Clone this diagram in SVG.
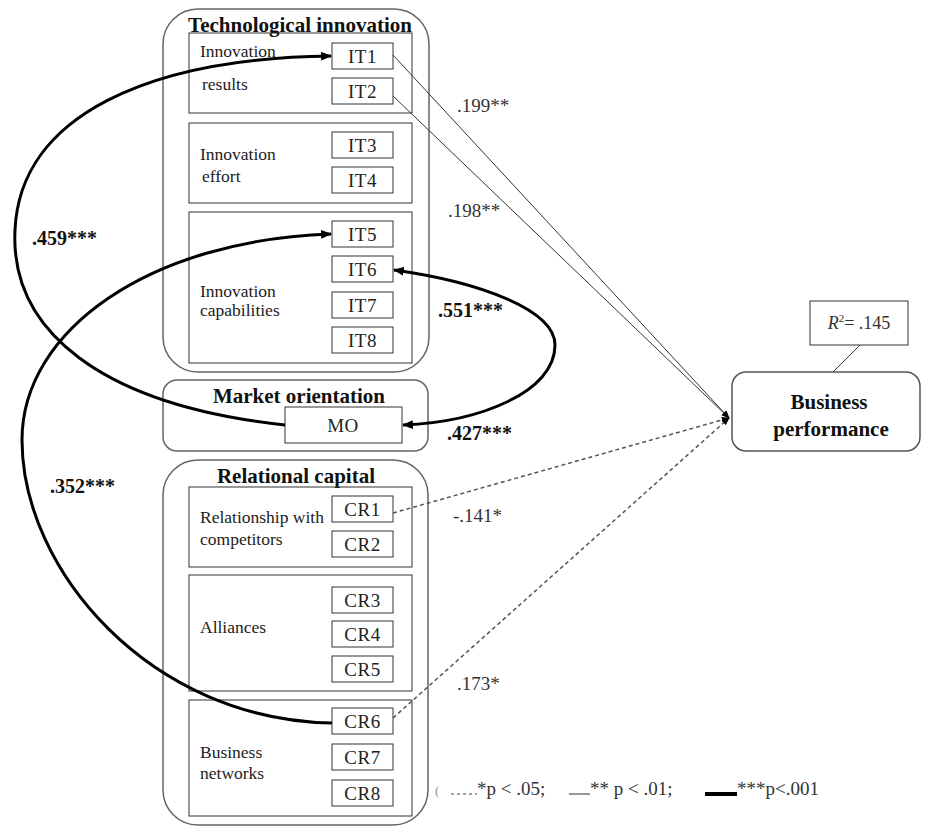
<svg xmlns="http://www.w3.org/2000/svg" width="933" height="828" viewBox="0 0 933 828">
<style>
.outer{fill:none;stroke:#666;stroke-width:1.5}
.inner{fill:none;stroke:#333;stroke-width:1}
.code{fill:#fff;stroke:#333;stroke-width:1}
.ct{font-family:"Liberation Serif",serif;font-size:19px;fill:#222;text-anchor:middle;letter-spacing:0.5px}
.lbl{font-family:"Liberation Serif",serif;font-size:17.5px;fill:#222}
.hdr{font-family:"Liberation Serif",serif;font-size:21px;font-weight:bold;fill:#111;text-anchor:middle}
.num{font-family:"Liberation Serif",serif;font-size:19px;fill:#333}
.bnum{font-family:"Liberation Serif",serif;font-size:20px;font-weight:bold;fill:#111}
.thick{fill:none;stroke:#000;stroke-width:3}
.solid{fill:none;stroke:#333;stroke-width:1}
.dash{fill:none;stroke:#555;stroke-width:1.5;stroke-dasharray:4,3}
</style>
<defs>
<marker id="ah" viewBox="0 0 10 8" refX="9" refY="4" markerWidth="11" markerHeight="9" markerUnits="userSpaceOnUse" orient="auto-start-reverse">
<path d="M0,0 L10,4 L0,8 z" fill="#000"/>
</marker>
<marker id="ahs" viewBox="0 0 10 8" refX="9" refY="4" markerWidth="8" markerHeight="7" markerUnits="userSpaceOnUse" orient="auto">
<path d="M0,0 L10,4 L0,8 z" fill="#000"/>
</marker>
</defs>

<g id="technological-innovation">
<rect class="outer" x="163" y="9" width="266" height="363" rx="35"/>
<text class="hdr" x="300" y="32" font-size="22">Technological innovation</text>
<g id="innovation-results">
<rect class="inner" x="189" y="33" width="223" height="80"/>
<text class="lbl" x="200" y="57">Innovation</text>
<text class="lbl" x="202" y="90">results</text>
<g id="IT1"><rect class="code" x="332" y="43" width="61" height="26"/><text class="ct" x="362.5" y="63">IT1</text></g>
<g id="IT2"><rect class="code" x="332" y="78" width="61" height="26"/><text class="ct" x="362.5" y="98">IT2</text></g>
</g>
<g id="innovation-effort">
<rect class="inner" x="189" y="123" width="223" height="80"/>
<text class="lbl" x="200" y="160">Innovation</text>
<text class="lbl" x="202" y="182">effort</text>
<g id="IT3"><rect class="code" x="332" y="132" width="61" height="26"/><text class="ct" x="362.5" y="152">IT3</text></g>
<g id="IT4"><rect class="code" x="332" y="167" width="61" height="26"/><text class="ct" x="362.5" y="187">IT4</text></g>
</g>
<g id="innovation-capabilities">
<rect class="inner" x="189" y="212" width="223" height="151"/>
<text class="lbl" x="200" y="297">Innovation</text>
<text class="lbl" x="200" y="316">capabilities</text>
<g id="IT5"><rect class="code" x="332" y="221" width="61" height="26"/><text class="ct" x="362.5" y="241">IT5</text></g>
<g id="IT6"><rect class="code" x="332" y="256" width="61" height="26"/><text class="ct" x="362.5" y="276">IT6</text></g>
<g id="IT7"><rect class="code" x="332" y="292" width="61" height="26"/><text class="ct" x="362.5" y="312">IT7</text></g>
<g id="IT8"><rect class="code" x="332" y="327" width="61" height="26"/><text class="ct" x="362.5" y="347">IT8</text></g>
</g>
</g>

<g id="market-orientation">
<rect class="outer" x="163" y="380" width="265" height="71" rx="14"/>
<text class="hdr" x="299" y="403">Market orientation</text>
<g id="MO"><rect class="code" x="285" y="407" width="117" height="36"/><text class="ct" x="343" y="432">MO</text></g>
</g>

<g id="relational-capital">
<rect class="outer" x="163" y="460" width="265" height="365" rx="35"/>
<text class="hdr" x="296" y="483">Relational capital</text>
<g id="relationship-competitors">
<rect class="inner" x="189" y="487" width="223" height="80"/>
<text class="lbl" x="200" y="523">Relationship with</text>
<text class="lbl" x="200" y="545">competitors</text>
<g id="CR1"><rect class="code" x="332" y="496" width="61" height="26"/><text class="ct" x="362.5" y="516">CR1</text></g>
<g id="CR2"><rect class="code" x="332" y="531" width="61" height="26"/><text class="ct" x="362.5" y="551">CR2</text></g>
</g>
<g id="alliances">
<rect class="inner" x="189" y="575" width="223" height="116"/>
<text class="lbl" x="200" y="633">Alliances</text>
<g id="CR3"><rect class="code" x="332" y="587" width="61" height="26"/><text class="ct" x="362.5" y="607">CR3</text></g>
<g id="CR4"><rect class="code" x="332" y="621" width="61" height="26"/><text class="ct" x="362.5" y="641">CR4</text></g>
<g id="CR5"><rect class="code" x="332" y="656" width="61" height="26"/><text class="ct" x="362.5" y="676">CR5</text></g>
</g>
<g id="business-networks">
<rect class="inner" x="189" y="700" width="223" height="116"/>
<text class="lbl" x="200" y="758">Business</text>
<text class="lbl" x="200" y="779">networks</text>
<g id="CR6"><rect class="code" x="332" y="708" width="61" height="26"/><text class="ct" x="362.5" y="728">CR6</text></g>
<g id="CR7"><rect class="code" x="332" y="744" width="61" height="26"/><text class="ct" x="362.5" y="764">CR7</text></g>
<g id="CR8"><rect class="code" x="332" y="780" width="61" height="26"/><text class="ct" x="362.5" y="800">CR8</text></g>
</g>
</g>

<g id="business-performance">
<rect x="732" y="372" width="188" height="79" rx="14" fill="#fff" stroke="#555" stroke-width="1.5"/>
<text class="hdr" x="829" y="409">Business</text>
<text class="hdr" x="831" y="436">performance</text>
</g>

<g id="r-squared">
<rect x="810" y="301" width="98" height="44" fill="#fff" stroke="#333" stroke-width="1"/>
<text x="859" y="329" font-family="Liberation Serif, serif" font-size="18" fill="#333" text-anchor="middle"><tspan font-style="italic">R</tspan><tspan font-size="11" dy="-7">2</tspan><tspan dy="7">= .145</tspan></text>
</g>

<g id="connectors">
<line class="solid" x1="860" y1="345" x2="833" y2="372"/>
<line class="solid" x1="393" y1="55" x2="729" y2="418" marker-end="url(#ahs)"/>
<line class="solid" x1="393" y1="96" x2="729" y2="418" marker-end="url(#ahs)"/>
<line class="dash" x1="393" y1="513" x2="729" y2="418" marker-end="url(#ahs)"/>
<line class="dash" x1="393" y1="718" x2="729" y2="418" marker-end="url(#ahs)"/>
<path class="thick" d="M285,425 C100,405 10,330 15,230 C20,115 150,58 331,56" marker-end="url(#ah)"/>
<path class="thick" d="M332,723 C150,720 22,570 22,440 C22,330 150,240 331,234" marker-end="url(#ah)"/>
<path class="thick" d="M394,270 C480,282 555,310 555,345 C555,392 480,422 403,425" marker-start="url(#ah)" marker-end="url(#ah)"/>
</g>

<g id="labels">
<text class="num" x="457" y="112">.199**</text>
<text class="num" x="448" y="217">.198**</text>
<text class="num" x="453" y="522">-.141*</text>
<text class="num" x="457" y="690">.173*</text>
<text class="bnum" x="32" y="245">.459***</text>
<text class="bnum" x="438" y="317">.551***</text>
<text class="bnum" x="447" y="440">.427***</text>
<text class="bnum" x="50" y="493">.352***</text>
</g>

<g id="legend">
<text x="435" y="795" font-family="Liberation Serif, serif" font-size="12" fill="#888">(</text>
<line x1="451" y1="794" x2="477" y2="794" stroke="#444" stroke-width="1.2" stroke-dasharray="3,3"/>
<text class="num" x="477" y="795" font-size="18">*p &lt; .05;</text>
<line x1="569" y1="794" x2="590" y2="794" stroke="#333" stroke-width="1"/>
<text class="num" x="590" y="795" font-size="18">** p &lt; .01;</text>
<line x1="705" y1="794" x2="737" y2="794" stroke="#000" stroke-width="4"/>
<text class="num" x="737" y="795" font-size="18">***p&lt;.001</text>
</g>
</svg>
